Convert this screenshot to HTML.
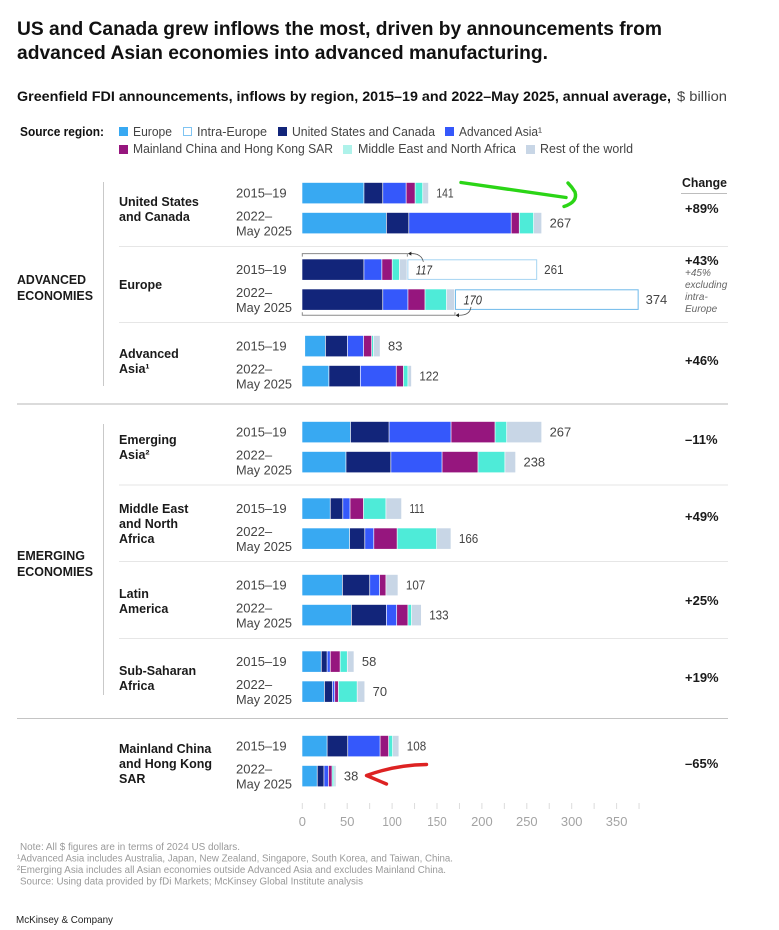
<!DOCTYPE html>
<html lang="en">
<head>
<meta charset="utf-8">
<title>Greenfield FDI announcements by region</title>
<style>
html,body{margin:0;padding:0;background:#fff;}
svg{display:block;font-family:"Liberation Sans",sans-serif;}
.t{fill:#111;}
.b{font-weight:bold;fill:#111;}
.p{font-size:13px;fill:#444;}
.r{font-size:12.5px;font-weight:bold;fill:#1a1a1a;}
.c{font-size:13px;font-weight:bold;fill:#1a1a1a;}
.l{font-size:12.5px;fill:#444;}
.n{font-size:10px;fill:#9a9a9a;}
</style>
</head>
<body>
<svg id="chart" xmlns="http://www.w3.org/2000/svg" width="779" height="930" viewBox="0 0 779 930">
  <rect width="779" height="930" fill="#fff"/>

  <text class="b" x="17" y="35" font-size="19" textLength="645" lengthAdjust="spacingAndGlyphs">US and Canada grew inflows the most, driven by announcements from</text>
  <text class="b" x="17" y="59" font-size="19" textLength="531" lengthAdjust="spacingAndGlyphs">advanced Asian economies into advanced manufacturing.</text>
  <text class="b" x="17" y="101" font-size="14" textLength="654" lengthAdjust="spacingAndGlyphs">Greenfield FDI announcements, inflows by region, 2015–19 and 2022–May 2025, annual average,</text>
  <text x="677" y="101" font-size="14" fill="#444" textLength="50" lengthAdjust="spacingAndGlyphs">$ billion</text>

  <g>
    <text class="b" x="20" y="136" font-size="12.5" textLength="84" lengthAdjust="spacingAndGlyphs">Source region:</text>
    <rect x="119" y="127" width="9" height="9" fill="#38a9f2"/>
    <text class="l" x="133" y="136" textLength="39" lengthAdjust="spacingAndGlyphs">Europe</text>
    <rect x="183.5" y="127.5" width="8" height="8" fill="#fff" stroke="#7fc4f2"/>
    <text class="l" x="197" y="136" textLength="70" lengthAdjust="spacingAndGlyphs">Intra-Europe</text>
    <rect x="278" y="127" width="9" height="9" fill="#12257a"/>
    <text class="l" x="292" y="136" textLength="143" lengthAdjust="spacingAndGlyphs">United States and Canada</text>
    <rect x="445" y="127" width="9" height="9" fill="#3558fb"/>
    <text class="l" x="459" y="136" textLength="83" lengthAdjust="spacingAndGlyphs">Advanced Asia¹</text>
    <rect x="119" y="145" width="9" height="9" fill="#96167e"/>
    <text class="l" x="133" y="153" textLength="200" lengthAdjust="spacingAndGlyphs">Mainland China and Hong Kong SAR</text>
    <rect x="343" y="145" width="9" height="9" fill="#aef2ea"/>
    <text class="l" x="358" y="153" textLength="158" lengthAdjust="spacingAndGlyphs">Middle East and North Africa</text>
    <rect x="526" y="145" width="9" height="9" fill="#c8d6e6"/>
    <text class="l" x="540" y="153" textLength="93" lengthAdjust="spacingAndGlyphs">Rest of the world</text>
  </g>

  <g>
    <line x1="103.5" x2="103.5" y1="182" y2="386" stroke="#c9c9c9"/>
    <line x1="103.5" x2="103.5" y1="424" y2="695" stroke="#c9c9c9"/>
    <line x1="119" x2="728" y1="246.5" y2="246.5" stroke="#e6e6e6"/>
    <line x1="119" x2="728" y1="322.5" y2="322.5" stroke="#e6e6e6"/>
    <line x1="17" x2="728" y1="404" y2="404" stroke="#cfcfcf" stroke-width="1.4"/>
    <line x1="119" x2="728" y1="485" y2="485" stroke="#e6e6e6"/>
    <line x1="119" x2="728" y1="561.5" y2="561.5" stroke="#e6e6e6"/>
    <line x1="119" x2="728" y1="638.5" y2="638.5" stroke="#e6e6e6"/>
    <line x1="17" x2="728" y1="718.5" y2="718.5" stroke="#c4c4c4"/>
  </g>

  <text class="r" x="17" y="284" textLength="69" lengthAdjust="spacingAndGlyphs">ADVANCED</text>
  <text class="r" x="17" y="300" textLength="76" lengthAdjust="spacingAndGlyphs">ECONOMIES</text>
  <text class="r" x="17" y="560" textLength="68" lengthAdjust="spacingAndGlyphs">EMERGING</text>
  <text class="r" x="17" y="576" textLength="76" lengthAdjust="spacingAndGlyphs">ECONOMIES</text>

  <g>
    <text class="r" x="119"><tspan x="119" y="206">United States</tspan><tspan x="119" y="221">and Canada</tspan></text>
    <text class="r" x="119" y="289">Europe</text>
    <text class="r" x="119"><tspan x="119" y="358">Advanced</tspan><tspan x="119" y="373">Asia¹</tspan></text>
    <text class="r" x="119"><tspan x="119" y="444">Emerging</tspan><tspan x="119" y="459">Asia²</tspan></text>
    <text class="r" x="119"><tspan x="119" y="513">Middle East</tspan><tspan x="119" y="528">and North</tspan><tspan x="119" y="543">Africa</tspan></text>
    <text class="r" x="119"><tspan x="119" y="598">Latin</tspan><tspan x="119" y="613">America</tspan></text>
    <text class="r" x="119"><tspan x="119" y="675">Sub-Saharan</tspan><tspan x="119" y="690">Africa</tspan></text>
    <text class="r" x="119"><tspan x="119" y="753">Mainland China</tspan><tspan x="119" y="768">and Hong Kong</tspan><tspan x="119" y="783">SAR</tspan></text>
  </g>

  <g>
    <text class="c" x="682" y="187" font-size="12.5" textLength="45" lengthAdjust="spacingAndGlyphs">Change</text>
    <line x1="681" x2="727" y1="193.5" y2="193.5" stroke="#bdbdbd"/>
    <text class="c" x="685" y="213">+89%</text>
    <text class="c" x="685" y="265">+43%</text>
    <text font-size="10" font-style="italic" fill="#666"><tspan x="685" y="276">+45%</tspan><tspan x="685" y="288">excluding</tspan><tspan x="685" y="300">intra-</tspan><tspan x="685" y="312">Europe</tspan></text>
    <text class="c" x="685" y="365">+46%</text>
    <text class="c" x="685" y="444">–11%</text>
    <text class="c" x="685" y="521">+49%</text>
    <text class="c" x="685" y="605">+25%</text>
    <text class="c" x="685" y="682">+19%</text>
    <text class="c" x="685" y="768">–65%</text>
  </g>

  <g id="plot"></g>

  <path d="M461 182.5 L566 197.5" stroke="#2bd516" stroke-width="3.4" fill="none" stroke-linecap="round"/>
  <path d="M568 183 Q572 187 575 192 Q578 202 564 206.5" stroke="#2bd516" stroke-width="3.4" fill="none" stroke-linecap="round"/>
  <path d="M426.5 764.5 Q395 765 366.5 775.5 L386.5 784" stroke="#dd2222" stroke-width="3.4" fill="none" stroke-linecap="round" stroke-linejoin="round"/>

  <g>
    <text class="n" x="20" y="850" textLength="220" lengthAdjust="spacingAndGlyphs">Note: All $ figures are in terms of 2024 US dollars.</text>
    <text class="n" x="17" y="861.5" textLength="436" lengthAdjust="spacingAndGlyphs">¹Advanced Asia includes Australia, Japan, New Zealand, Singapore, South Korea, and Taiwan, China.</text>
    <text class="n" x="17" y="873" textLength="429" lengthAdjust="spacingAndGlyphs">²Emerging Asia includes all Asian economies outside Advanced Asia and excludes Mainland China.</text>
    <text class="n" x="20" y="884.5" textLength="343" lengthAdjust="spacingAndGlyphs">Source: Using data provided by fDi Markets; McKinsey Global Institute analysis</text>
    <text x="16" y="923" font-size="10.5" fill="#222" textLength="97" lengthAdjust="spacingAndGlyphs">McKinsey &amp; Company</text>
  </g>
</svg>
<script>
// Bars in order: each region has a 2015-19 bar then a 2022-May 2025 bar.
const regions = ["US and Canada","Europe","Advanced Asia","Emerging Asia","Middle East and North Africa","Latin America","Sub-Saharan Africa","Mainland China and Hong Kong SAR"];
const periods = ["2015-19","2022-May 2025"];
const europe   = [69,94, 0,0,   23,30, 54,49, 31.5,53, 45,55,   21.5,25, 28,17];
const usCanada = [21,25, 69,90, 24.5,35, 43,50, 14,17, 30.5,39, 6.5,9,   23,7.5];
const advAsia  = [26,114, 20,28, 18,40, 69,57, 8,10,   11,11.5, 3.5,2.5, 36,5];
const china    = [10,9,  11.5,19, 9,8,  49,40, 15,26,  7,12.5,  11,4,    9.5,4];
const midEast  = [8.5,16, 8,24, 2,5,   13,30, 25,44,   0,4,     8,21,    4.5,2];
const restWorld= [6.5,9, 8.5,9, 7.5,4, 39,12, 17.5,16, 13.5,11, 7.5,8.5, 7,2.5];
const intraEurope = [0,0, 144,204, 0,0, 0,0, 0,0, 0,0, 0,0, 0,0];
const totals   = [141,267, 261,374, 83,122, 267,238, 111,166, 107,133, 58,70, 108,38];
const intraLabels = [117,170];
const tickLabels = [0,50,100,150,200,250,300,350];
const axisMax = 375;
const tickStep = 25;

const seriesNames = ["europe","us-canada","advanced-asia","china","middle-east","rest-of-world","intra-europe"];
const seriesValues = [europe,usCanada,advAsia,china,midEast,restWorld,intraEurope];
const seriesColors = ["#38a9f2","#12257a","#3558fb","#96167e","#4eebd8","#c8d6e6","#ffffff"];

const NS = "http://www.w3.org/2000/svg";
const plot = document.getElementById("plot");
const x0 = 302.3, pxPerUnit = 0.898, barH = 20.6;
function xLen(v){ return v * pxPerUnit; }
function xPos(v){ return x0 + xLen(v); }
function regionTop(r){ return 182.8 + 76.5 * r + (r >= 3 ? 9.5 : 0) + (r >= 7 ? 8 : 0); }
function barTop(i){ const r = Math.floor(i / 2); return regionTop(r) + (i % 2) * 30; }
// The reference typeface has a much narrower digit 1 than Liberation Sans.
function numWidth(n){
  let w = 0;
  String(n).split("").forEach(function(ch){ w += ch === "1" ? 5 : 7.2; });
  return w;
}
function el(tag, attrs, text){
  const e = document.createElementNS(NS, tag);
  for (const k in attrs) e.setAttribute(k, attrs[k]);
  if (text !== undefined) e.textContent = text;
  return e;
}

totals.forEach(function(total, i){
  const r = Math.floor(i / 2), p = i % 2, top = barTop(i);
  const nudge = (r === 2 && p === 0) ? 2.8 : 0;
  const slug = regions[r].toLowerCase().replace(/ /g, "-") + "-" + (p ? "2022-2025" : "2015-19");

  if (p === 0) {
    const lab = el("text", {class:"p", x:236, y:top + 14.5}, "2015–19");
    
    
    plot.appendChild(lab);
  } else {
    const lab1 = el("text", {class:"p", x:236, y:top + 7.5}, "2022–");
    
    
    plot.appendChild(lab1);
    const lab2 = el("text", {class:"p", x:236, y:top + 22.5, textLength:56, lengthAdjust:"spacingAndGlyphs"}, "May 2025");
    
    
    plot.appendChild(lab2);
  }

  let cum = 0;
  seriesValues.forEach(function(vals, s){
    const v = vals[i];
    if (!v) return;
    const isIntra = seriesNames[s] === "intra-europe";
    const rect = el("rect", {
      x: xPos(cum) + nudge + (isIntra ? 0.5 : 0),
      y: top + (isIntra ? 0.5 : 0),
      width: Math.max(0.5, xLen(v) - (isIntra ? 0.5 : 0.7)),
      height: barH - (isIntra ? 1 : 0),
      fill: seriesColors[s]
    });
    if (isIntra) { rect.setAttribute("stroke", p ? "#6fb9ea" : "#a5d4f2"); }
    
    
    plot.appendChild(rect);
    cum += v;
  });

  const val = el("text", {class:"p", x: xPos(cum) + nudge + 7.5, y: top + 14.5, textLength:numWidth(total), lengthAdjust:"spacingAndGlyphs"}, String(total));
  
  
  plot.appendChild(val);
});

// Europe bracket annotations: span the bar excluding intra-Europe flows
intraLabels.forEach(function(label, p){
  const i = 2 + p, top = barTop(i);
  let sum = 0;
  for (let s = 0; s < 6; s++) sum += seriesValues[s][i];
  const end = xPos(sum);
  const y = p ? top + barH + 5.3 : top - 5.7;
  const tickEnd = p ? y - 3 : y + 3;
  const bracket = el("path", {d:"M"+x0+" "+tickEnd+" V"+y+" H"+end+" V"+tickEnd, fill:"none", stroke:"#8a8a8a", "stroke-width":1});
  
  
  plot.appendChild(bracket);

  const t = el("text", {x:end + 8.5, y:top + 15, "font-size":13, "font-style":"italic", fill:"#333", textLength:numWidth(label) - 1, lengthAdjust:"spacingAndGlyphs"}, String(label));
  
  
  plot.appendChild(t);

  const d = p
    ? "M"+(end+16)+" "+(top+barH-3)+" Q"+(end+15)+" "+(y+0.5)+" "+(end+3)+" "+y
    : "M"+(end+16)+" "+(top+2.5)+" Q"+(end+14)+" "+(y-0.5)+" "+(end+3)+" "+y;
  const curve = el("path", {d:d, fill:"none", stroke:"#555", "stroke-width":0.8});
  
  
  plot.appendChild(curve);

  const head = el("path", {d:"M"+(end+0.5)+" "+y+" l3.5 -2 v4 z", fill:"#222"});
  
  
  plot.appendChild(head);
});

// Axis
for (let v = 0; v <= axisMax; v += tickStep) {
  const tick = el("line", {x1:xPos(v), x2:xPos(v), y1:803, y2:809, stroke:"#dcdcdc", "stroke-width":1});
  
  
  plot.appendChild(tick);
}
tickLabels.forEach(function(v){
  const lab = el("text", {x:xPos(v), y:826, "text-anchor":"middle", "font-size":13, fill:"#a3a3a3", textLength:numWidth(v), lengthAdjust:"spacingAndGlyphs"}, String(v));
  
  
  plot.appendChild(lab);
});
</script>
</body>
</html>
